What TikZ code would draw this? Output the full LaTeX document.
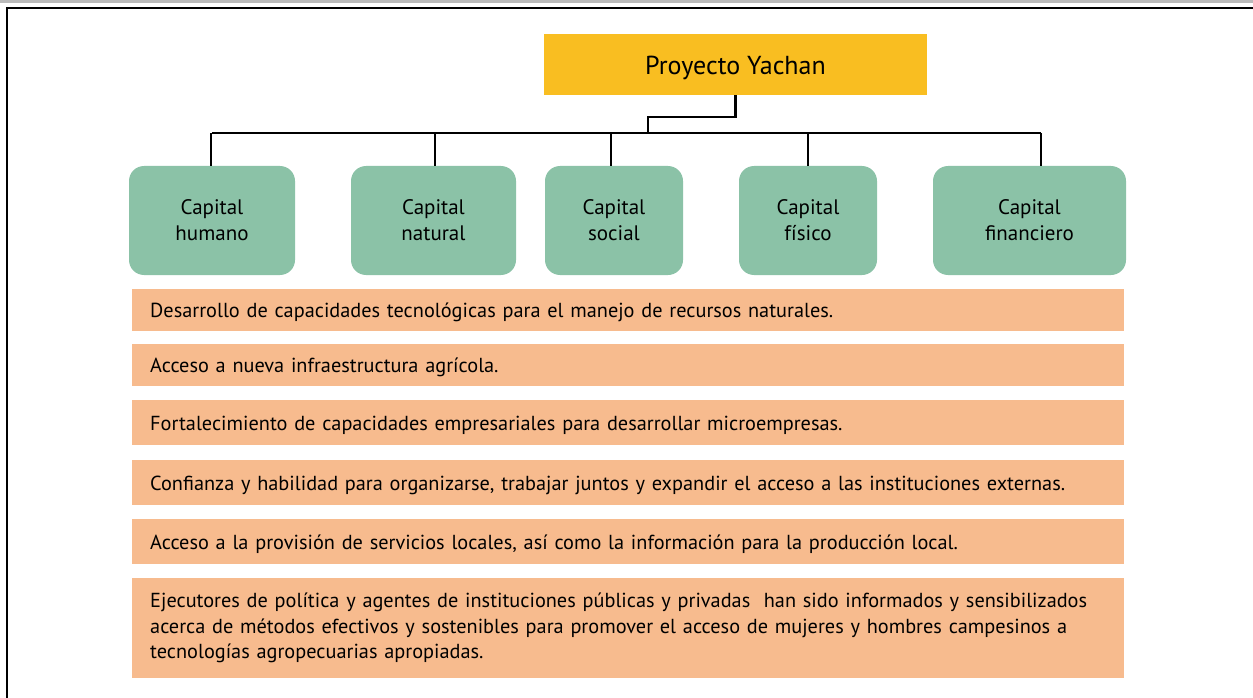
\documentclass[tikz,border=0pt]{standalone}
\usepackage{fontspec}
\setmainfont{PT Sans}
\usepackage{tikz}
\usetikzlibrary{positioning}
\definecolor{yachanyellow}{RGB}{249,190,33}
\definecolor{capgreen}{RGB}{139,194,167}
\definecolor{barorange}{RGB}{247,187,142}
\definecolor{bandgray}{RGB}{187,187,187}
\tikzset{
  proyecto/.style={fill=yachanyellow,inner sep=0pt,minimum width=383,minimum height=61,text height=24,text depth=4,font=\fontsize{26}{30}\selectfont},
  capital/.style={fill=capgreen,rounded corners=15,inner sep=0pt,minimum height=109,align=center,font=\fontsize{21}{26}\selectfont},
  logro/.style={fill=barorange,anchor=north west,inner xsep=18,inner ysep=0pt,text width=956,align=left,font=\fontsize{20.3}{25.5}\selectfont},
  oneline/.style={logro,text height=18,text depth=2.5},
  tree/.style={line width=2.6}
}

\begin{document}
\begin{tikzpicture}[x=1pt,y=-1pt]
\useasboundingbox (0,0) rectangle (1253,698);
\fill[bandgray] (0,0) rectangle (1253,3.5);
\draw[line width=1.8] (1253,8) -- (7.3,8) -- (7.3,698);

\node[proyecto] (yachan) at (735.5,64.5) {Proyecto Yachan};

\node[capital,minimum width=166] (humano) at (212,220.5) {Capital\\humano};
\node[capital,minimum width=165] (natural) at (433.5,220.5) {Capital\\natural};
\node[capital,minimum width=138] (social) at (614,220.5) {Capital\\social};
\node[capital,minimum width=138] (fisico) at (808,220.5) {Capital\\físico};
\node[capital,minimum width=193] (financiero) at (1029.5,220.5) {Capital\\financiero};

\coordinate (bus) at (648,133);
\draw[tree] (yachan.south) -- ++(0,22) -| (bus);
\draw[tree] (humano.north |- bus) -- ([xshift=11.5]financiero.north |- bus);
\draw[tree] ([xshift=-1]humano.north) -- ([xshift=-1]humano.north |- bus);
\draw[tree] ([xshift=1.5]natural.north) -- ([xshift=1.5]natural.north |- bus);
\draw[tree] ([xshift=-3]social.north) -- ([xshift=-3]social.north |- bus);
\draw[tree] (fisico.north) -- (fisico.north |- bus);
\draw[tree] ([xshift=11.5]financiero.north) -- ([xshift=11.5]financiero.north |- bus);

\node[oneline,minimum height=42] (l1) at (132,289) {Desarrollo de capacidades tecnológicas para el manejo de recursos naturales.};
\node[oneline,minimum height=42] (l2) at (132,344) {Acceso a nueva infraestructura agrícola.};
\node[oneline,minimum height=45] (l3) at (132,400) {Fortalecimiento de capacidades empresariales para desarrollar microempresas.};
\node[oneline,minimum height=45] (l4) at (132,460) {Confianza y habilidad para organizarse, trabajar juntos y expandir el acceso a las instituciones externas.};
\node[oneline,minimum height=45] (l5) at (132,519) {Acceso a la provisión de servicios locales, así como la información para la producción local.};
\node[logro,minimum height=100] (l6) at (132,578) {Ejecutores de política y agentes de instituciones públicas y privadas\ \ han sido informados y sensibilizados\\acerca de métodos efectivos y sostenibles para promover el acceso de mujeres y hombres campesinos a\\tecnologías agropecuarias apropiadas.};
\end{tikzpicture}
\end{document}
